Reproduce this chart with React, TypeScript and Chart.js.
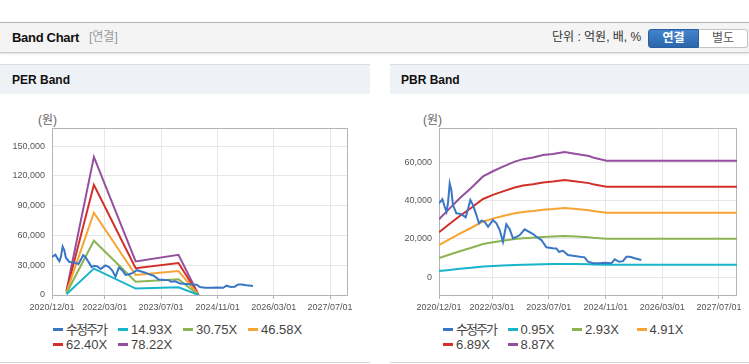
import React, { useEffect, useRef } from 'react';
import { Chart, registerables } from 'chart.js';

Chart.register(...registerables);

// ---------------- data ----------------
const X_TICK_LABELS = ['2020/12/01', '2022/03/01', '2023/07/01', '2024/11/01', '2026/03/01', '2027/07/01'];
const X_MIN = '2020/12/01';
const X_MAX = '2027/12/03';

const PER_Y_TICKS = [0, 30000, 60000, 90000, 120000, 150000];
const PBR_Y_TICKS = [0, 20000, 40000, 60000];

const PRICE_DATES = [
  '2020-12-01', '2020-12-30', '2021-01-19', '2021-02-03', '2021-02-16', '2021-03-03', '2021-03-17', '2021-03-31',
  '2021-04-29', '2021-06-11', '2021-07-18', '2021-08-07', '2021-08-27', '2021-09-19', '2021-10-18', '2021-11-09',
  '2021-11-30', '2021-12-28', '2022-01-26', '2022-03-09', '2022-04-08', '2022-05-06', '2022-06-03', '2022-07-02',
  '2022-07-31', '2022-08-28', '2022-09-29', '2022-10-25', '2022-12-06', '2023-01-18', '2023-02-16', '2023-03-17',
  '2023-04-29', '2023-06-11', '2023-08-06', '2023-09-05', '2023-09-27', '2023-10-31', '2023-12-13', '2024-02-09',
  '2024-03-23', '2024-05-04', '2024-06-02', '2024-07-15', '2024-09-10', '2024-10-23', '2024-12-20', '2025-01-17',
  '2025-02-23', '2025-03-29', '2025-04-28', '2025-05-26', '2025-07-08', '2025-09-03',
];
const PRICE_VALUES = [
  38500, 40600, 36700, 34100, 38500, 48900, 45400, 37600,
  33300, 32900, 31200, 35500, 40200, 37600, 32400, 28100,
  29500, 28900, 26300, 29800, 28100, 24600, 18500, 27600,
  25000, 20300, 21000, 22000, 25000, 23500, 22500, 21100,
  19400, 15600, 15100, 15000, 13300, 13800, 11600, 11100,
  10700, 10400, 8100, 7300, 7300, 7600, 7300, 9400,
  8100, 8400, 10700, 10700, 9900, 9000,
];

// PER band
const PER_LABELS = ['수정주가', '14.93X', '30.75X', '46.58X', '62.40X', '78.22X'];
const PER_BAND_DATES = ['2021-04-05', '2021-11-28', '2022-11-24', '2023-11-29', '2024-05-21'];
const PER_14_93 = [820, 26600, 6450, 7730, 0];
const PER_30_75 = [1690, 54700, 13280, 15930, 0];
const PER_46_58 = [2560, 82900, 20120, 24130, 0];
const PER_62_40 = [3430, 111100, 26960, 32320, 0];
const PER_78_22 = [4300, 139300, 33800, 40500, 0];

// PBR band
const PBR_LABELS = ['수정주가', '0.95X', '2.93X', '4.91X', '6.89X', '8.87X'];
const PBR_BAND_DATES = [
  '2020-12-01', '2021-03-03', '2021-05-28', '2021-09-05', '2021-12-14', '2022-03-09', '2022-06-03', '2022-09-12',
  '2022-11-22', '2023-02-16', '2023-05-13', '2023-08-06', '2023-11-15', '2024-02-23', '2024-06-10', '2024-07-15',
  '2024-11-07', '2027-12-03',
];
const PBR_0_95 = [3235, 3845, 4402, 4991, 5623, 5912, 6169, 6448, 6586, 6683, 6812, 6876, 6983, 6876, 6758, 6683, 6501, 6501];
const PBR_2_93 = [9977, 11860, 13580, 15390, 17340, 18230, 19030, 19890, 20310, 20610, 21010, 21210, 21540, 21210, 20840, 20610, 20050, 20050];
const PBR_4_91 = [16720, 19870, 22750, 25800, 29060, 30550, 31890, 33320, 34040, 34540, 35200, 35540, 36090, 35540, 34930, 34540, 33600, 33600];
const PBR_6_89 = [23460, 27880, 31930, 36200, 40780, 42880, 44740, 46760, 47770, 48470, 49400, 49870, 50650, 49870, 49020, 48470, 47150, 47150];
const PBR_8_87 = [30200, 35900, 41100, 46600, 52500, 55200, 57600, 60200, 61500, 62400, 63600, 64200, 65200, 64200, 63100, 62400, 60700, 60700];

const SERIES_COLORS = ['#3a76c6', '#18b4ca', '#8db453', '#f6a533', '#d2302a', '#94509e'];

// ---------------- helpers ----------------
const toDay = (s: string) => {
  const [y, m, d] = s.split(/[-/]/).map(Number);
  return Date.UTC(y, m - 1, d) / 86400000;
};
const pts = (dates: string[], vals: number[]) => dates.map((d, i) => ({ x: toDay(d), y: vals[i] }));

const TICK_FONT = { family: "'Liberation Sans', Arial, sans-serif", size: 9 };
const UI_FONT = "'Liberation Sans', Arial, 'Noto Sans CJK KR', sans-serif";

const boxPlugin = {
  id: 'plotBox',
  beforeDatasetsDraw(chart: any) {
    const { ctx, chartArea: a } = chart;
    ctx.save();
    ctx.strokeStyle = '#b4b4b4';
    ctx.lineWidth = 1;
    ctx.strokeRect(Math.round(a.left) + 0.5, Math.round(a.top) + 0.5, Math.round(a.right - a.left) - 1, Math.round(a.bottom - a.top));
    ctx.restore();
  },
};

type BandProps = {
  left: number;
  width: number;
  yAxisWidth: number;
  padRight: number;
  yMin: number;
  yMax: number;
  yTicks: number[];
  series: { x: number; y: number }[][];
  labels: string[];
  legendLeft: number;
  legendCol: number;
};

function BandChart(p: BandProps) {
  const ref = useRef<HTMLCanvasElement | null>(null);
  useEffect(() => {
    if (!ref.current) return;
    const tickValues = X_TICK_LABELS.map(toDay);
    const chart = new Chart(ref.current, {
      type: 'line',
      data: {
        datasets: p.series.map((data, i) => ({
          label: p.labels[i],
          data,
          borderColor: SERIES_COLORS[i],
          backgroundColor: SERIES_COLORS[i],
          borderWidth: 2,
          pointRadius: 0,
          tension: 0,
          fill: false,
        })),
      },
      options: {
        animation: false,
        responsive: false,
        maintainAspectRatio: false,
        layout: { padding: { top: 8, right: p.padRight, left: 0, bottom: 0 } },
        plugins: { legend: { display: false }, tooltip: { enabled: false } },
        scales: {
          x: {
            type: 'linear',
            min: toDay(X_MIN),
            max: toDay(X_MAX),
            afterBuildTicks: (scale: any) => {
              scale.ticks = tickValues.map((v) => ({ value: v }));
            },
            afterFit: (scale: any) => {
              scale.height = 25;
            },
            ticks: {
              color: '#555',
              font: TICK_FONT,
              padding: 3,
              maxRotation: 0,
              autoSkip: false,
              callback: (v: any) => {
                const idx = tickValues.indexOf(Number(v));
                return idx >= 0 ? X_TICK_LABELS[idx] : '';
              },
            },
            grid: { color: '#e6e6e6', tickLength: 4, tickColor: '#b4b4b4' },
            border: { display: false },
          },
          y: {
            type: 'linear',
            min: p.yMin,
            max: p.yMax,
            afterBuildTicks: (scale: any) => {
              scale.ticks = p.yTicks.map((v) => ({ value: v }));
            },
            afterFit: (scale: any) => {
              scale.width = p.yAxisWidth;
            },
            ticks: {
              color: '#555',
              font: TICK_FONT,
              padding: 3,
              autoSkip: false,
              callback: (v: any) => Number(v).toLocaleString('en-US'),
            },
            grid: { color: '#e6e6e6', tickLength: 4, tickColor: 'rgba(0,0,0,0)' },
            border: { display: false },
          },
        },
      },
      plugins: [boxPlugin],
    } as any);
    return () => chart.destroy();
  }, []);

  return (
    <>
      <canvas
        ref={ref}
        width={p.width}
        height={200}
        style={{ position: 'absolute', left: p.left, top: 120, width: p.width, height: 200 }}
      />
      <div
        style={{
          position: 'absolute',
          left: p.legendLeft,
          top: 322,
          width: p.legendCol * 4,
          display: 'grid',
          gridTemplateColumns: `repeat(4, ${p.legendCol}px)`,
          fontFamily: UI_FONT,
          fontSize: 13,
          color: '#444',
        }}
      >
        {p.labels.map((l, i) => (
          <div key={i} style={{ height: 15, lineHeight: '15px', whiteSpace: 'nowrap', display: 'flex', alignItems: 'center' }}>
            <span style={{ display: 'inline-block', width: 10, height: 3, background: SERIES_COLORS[i], marginRight: 3 }} />
            <span style={{ letterSpacing: /[가-힣]/.test(l) ? '-2px' : '0px' }}>{l}</span>
          </div>
        ))}
      </div>
    </>
  );
}

if (typeof document !== 'undefined') {
  document.body.style.margin = '0';
  document.body.style.background = '#fff';
}

export default function App() {
  const priceSeries = pts(PRICE_DATES, PRICE_VALUES);
  const perSeries = [
    priceSeries,
    pts(PER_BAND_DATES, PER_14_93),
    pts(PER_BAND_DATES, PER_30_75),
    pts(PER_BAND_DATES, PER_46_58),
    pts(PER_BAND_DATES, PER_62_40),
    pts(PER_BAND_DATES, PER_78_22),
  ];
  const pbrSeries = [
    priceSeries,
    pts(PBR_BAND_DATES, PBR_0_95),
    pts(PBR_BAND_DATES, PBR_2_93),
    pts(PBR_BAND_DATES, PBR_4_91),
    pts(PBR_BAND_DATES, PBR_6_89),
    pts(PBR_BAND_DATES, PBR_8_87),
  ];

  return (
    <div style={{ position: 'relative', width: 749, height: 364, overflow: 'hidden', background: '#fff', fontFamily: UI_FONT }}>
      {/* top bar */}
      <div
        style={{
          position: 'absolute', left: 0, top: 22, width: 749, height: 29,
          background: '#f4f4f4', borderTop: '1px solid #b5b5b5', borderBottom: '1px solid #c9c9c9',
          boxShadow: '0 1px 2px rgba(0,0,0,0.12)',
        }}
      >
        <div style={{ position: 'absolute', left: 12, top: 0, height: 29, lineHeight: '29px', fontSize: 13, fontWeight: 'bold', color: '#111', letterSpacing: '-0.3px' }}>
          Band Chart
        </div>
        <div style={{ position: 'absolute', left: 89, top: 0, height: 29, lineHeight: '29px', fontSize: 12, color: '#999' }}>
          [연결]
        </div>
        <div style={{ position: 'absolute', left: 552, top: 0, height: 29, lineHeight: '29px', fontSize: 12, color: '#333' }}>
          단위 : 억원, 배, %
        </div>
        <div
          style={{
            position: 'absolute', left: 648, top: 6, width: 51, height: 19, boxSizing: 'border-box',
            background: 'linear-gradient(#4284cc, #2c66ad)', border: '1px solid #2a5e9f', borderRadius: '3px 0 0 3px',
            color: '#fff', fontSize: 12, fontWeight: 'bold', textAlign: 'center', lineHeight: '17px',
          }}
        >
          연결
        </div>
        <div
          style={{
            position: 'absolute', left: 699, top: 6, width: 49, height: 19, boxSizing: 'border-box',
            background: '#fff', border: '1px solid #c4c4c4', borderLeft: 'none', borderRadius: '0 3px 3px 0',
            color: '#555', fontSize: 12, textAlign: 'center', lineHeight: '17px',
          }}
        >
          별도
        </div>
      </div>

      {/* PER panel */}
      <div style={{ position: 'absolute', left: 0, top: 64, width: 370, height: 297, borderTop: '1px solid #dcdcdc', borderBottom: '1px solid #d4d4d4', background: '#fff' }}>
        <div style={{ height: 29, lineHeight: '31px', background: '#eef2f7', paddingLeft: 12, fontSize: 12, fontWeight: 'bold', color: '#111' }}>PER Band</div>
      </div>
      {/* PBR panel */}
      <div style={{ position: 'absolute', left: 390, top: 64, width: 359, height: 297, borderTop: '1px solid #dcdcdc', borderBottom: '1px solid #d4d4d4', background: '#fff' }}>
        <div style={{ height: 29, lineHeight: '31px', background: '#eef2f7', paddingLeft: 11, fontSize: 12, fontWeight: 'bold', color: '#111' }}>PBR Band</div>
      </div>

      <div style={{ position: 'absolute', left: 38, top: 110, fontSize: 12, color: '#666' }}>(원)</div>
      <div style={{ position: 'absolute', left: 423, top: 110, fontSize: 12, color: '#666' }}>(원)</div>

      <BandChart
        left={0}
        width={370}
        yAxisWidth={52}
        padRight={22}
        yMin={0}
        yMax={168000}
        yTicks={PER_Y_TICKS}
        series={perSeries}
        labels={PER_LABELS}
        legendLeft={53}
        legendCol={65}
      />
      <BandChart
        left={390}
        width={359}
        yAxisWidth={49}
        padRight={12}
        yMin={-9200}
        yMax={77500}
        yTicks={PBR_Y_TICKS}
        series={pbrSeries}
        labels={PBR_LABELS}
        legendLeft={443}
        legendCol={64.5}
      />
    </div>
  );
}
